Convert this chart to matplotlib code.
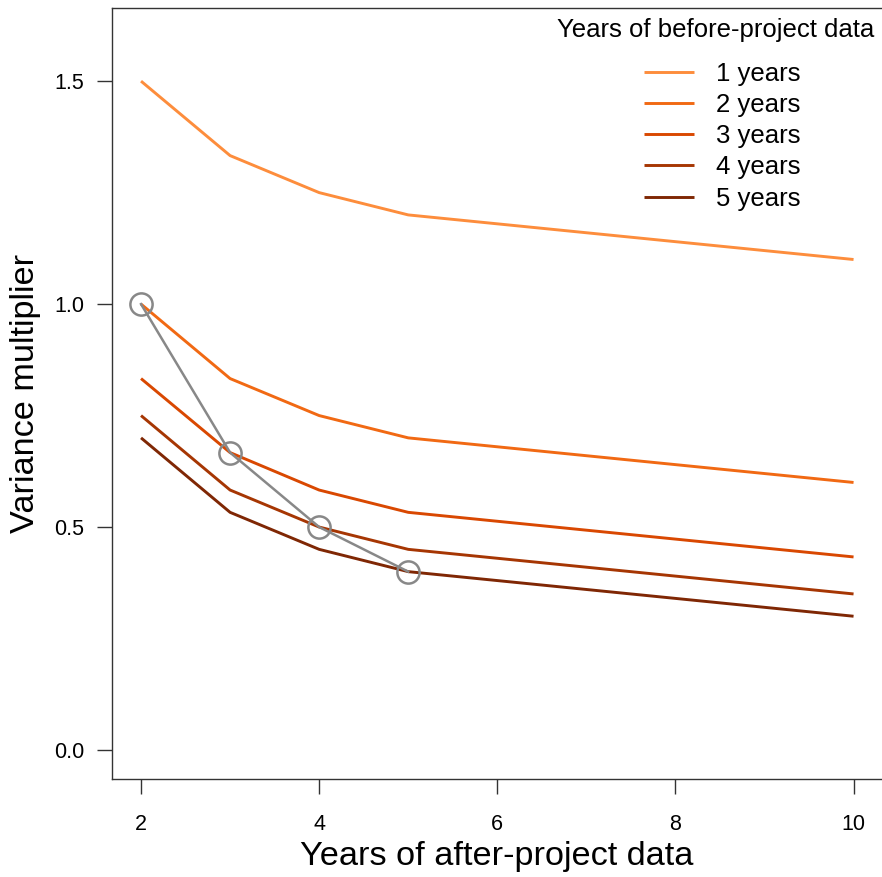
import matplotlib
matplotlib.use("Agg")
import matplotlib.pyplot as plt

# Years of after-project data (x positions)
after_years = [2, 3, 4, 5, 10]

# Variance multiplier for each amount of before-project data
before_1 = [1.500, 1.333, 1.250, 1.200, 1.100]
before_2 = [1.000, 0.833, 0.750, 0.700, 0.600]
before_3 = [0.833, 0.667, 0.583, 0.533, 0.433]
before_4 = [0.750, 0.583, 0.500, 0.450, 0.350]
before_5 = [0.700, 0.533, 0.450, 0.400, 0.300]

series_labels = ["1 years", "2 years", "3 years", "4 years", "5 years"]
series_colors = ["#FD8D3C", "#F16913", "#D94801", "#A63603", "#7F2704"]

# Equal before/after designs
equal_x = [2, 3, 4, 5]
equal_y = [1.000, 0.667, 0.500, 0.400]

x_ticks = [2, 4, 6, 8, 10]
y_ticks = [0.0, 0.5, 1.0, 1.5]

plt.rcParams["font.family"] = ["Liberation Sans", "DejaVu Sans"]

fig = plt.figure(figsize=(8.82, 8.77), dpi=100)
ax = fig.add_axes([112 / 882, 1 - 779 / 877, (884 - 112) / 882, (779 - 8) / 877])

for ys, lab, col in zip([before_1, before_2, before_3, before_4, before_5],
                        series_labels, series_colors):
    ax.plot(after_years, ys, color=col, lw=2.1, label=lab, solid_capstyle="butt")

ax.plot(equal_x, equal_y, color="#888888", lw=1.8, marker="o", ms=16,
        mfc="none", mec="#888888", mew=1.8, zorder=5)

ax.set_xlim(1.674, 10.342)
ax.set_ylim(-0.065, 1.664)
ax.set_xticks(x_ticks)
ax.set_xticklabels([str(t) for t in x_ticks])
ax.set_yticks(y_ticks)
ax.set_yticklabels([f"{t:.1f}" for t in y_ticks])

for s in ax.spines.values():
    s.set_color("#333333")
    s.set_linewidth(1.0)
ax.tick_params(axis="both", direction="out", length=11, width=1.0,
               color="#333333", labelsize=15.5)
ax.tick_params(axis="x", pad=14)
ax.tick_params(axis="y", pad=9)

ax.set_xlabel("Years of after-project data", fontsize=24.7)
ax.xaxis.set_label_coords((497 - 112) / 772, -(857 - 779) / 771)
ax.xaxis.label.set_va("center")
ax.set_ylabel("Variance multiplier", fontsize=24.7)
ax.yaxis.set_label_coords(-(112 - 25) / 772, 0.5)
ax.yaxis.label.set_va("center")

# Legend title and entries
fig.text(716 / 882, 1 - 30 / 877, "Years of before-project data",
         fontsize=18.5, ha="center", va="center")
leg = ax.legend(loc="upper center", bbox_to_anchor=(722 / 882, 1 - 49 / 877),
                bbox_transform=fig.transFigure, frameon=False, fontsize=18.5,
                handlelength=1.95, handletextpad=0.85, labelspacing=0.28,
                borderpad=0.0)

fig.savefig("out.png", dpi=100)
